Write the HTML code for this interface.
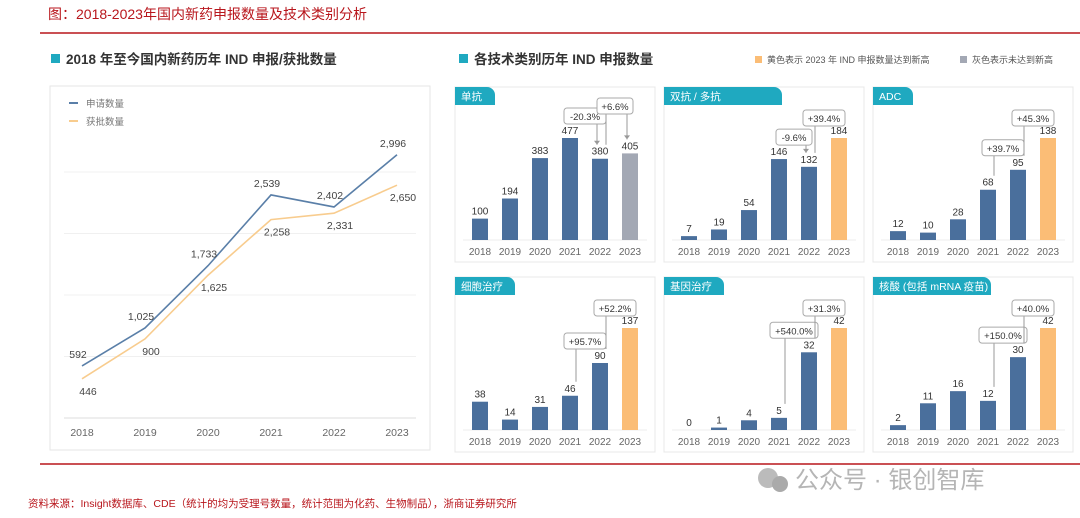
<!DOCTYPE html>
<html><head><meta charset="utf-8"><style>
body{margin:0;background:#fff;}
svg{display:block;font-family:"Liberation Sans","Noto Sans CJK SC",sans-serif;}
</style></head><body>
<svg id="s" width="1080" height="518" viewBox="0 0 1080 518">
<text x="48" y="19" font-size="14" fill="#b8161c">图：2018-2023年国内新药申报数量及技术类别分析</text>
<line x1="40" y1="33" x2="1080" y2="33" stroke="#b8161c" stroke-width="1.5"/>
<rect x="51" y="54" width="9" height="9" fill="#1fa9c0"/>
<text x="66" y="64" font-size="13.5" font-weight="bold" fill="#333">2018 年至今国内新药历年 IND 申报/获批数量</text>
<rect x="459" y="54" width="9" height="9" fill="#1fa9c0"/>
<text x="474" y="64" font-size="13.5" font-weight="bold" fill="#333">各技术类别历年 IND 申报数量</text>
<rect x="755" y="56" width="7" height="7" fill="#fbbd76"/>
<text x="767" y="63" font-size="9" fill="#555">黄色表示 2023 年 IND 申报数量达到新高</text>
<rect x="960" y="56" width="7" height="7" fill="#a3a8b4"/>
<text x="972" y="63" font-size="9" fill="#555">灰色表示未达到新高</text>
<rect x="50" y="86" width="380" height="364" fill="#fff" stroke="#e6e6e6"/>
<g id="line"></g>
<g id="bars"></g>
<line x1="40" y1="464" x2="1080" y2="464" stroke="#b8161c" stroke-width="1.5"/>
<text x="28" y="507" font-size="10.5" fill="#b8161c">资料来源：Insight数据库、CDE（统计的均为受理号数量，统计范围为化药、生物制品），浙商证券研究所</text>
<circle cx="768" cy="478" r="10" fill="#bbb"/>
<circle cx="780" cy="484" r="8" fill="#aaa"/>
<text x="795" y="488" font-size="24" fill="#b5b5b5">公众号 · 银创智库</text>
</svg>
<script>
const years=['2018','2019','2020','2021','2022','2023'];
const applied=[592,1025,1733,2539,2402,2996];
const approved=[446,900,1625,2258,2331,2650];
const gridTicks=[0,700,1400,2100,2800];

const panelNames=['单抗','双抗 / 多抗','ADC','细胞治疗','基因治疗','核酸 (包括 mRNA 疫苗)'];
const v1=[100,194,383,477,380,405];
const v2=[7,19,54,146,132,184];
const v3=[12,10,28,68,95,138];
const v4=[38,14,31,46,90,137];
const v5=[0,1,4,5,32,42];
const v6=[2,11,16,12,30,42];
const panelValues=[v1,v2,v3,v4,v5,v6];
const lastIsGray=[true,false,false,false,false,false];
const growthA=['-20.3%','-9.6%','+39.7%','+95.7%','+540.0%','+150.0%'];
const growthB=['+6.6%','+39.4%','+45.3%','+52.2%','+31.3%','+40.0%'];

const NS='http://www.w3.org/2000/svg';
function mk(p,tag,at,txt){const e=document.createElementNS(NS,tag);for(const k in at)e.setAttribute(k,at[k]);if(txt!==undefined)e.textContent=txt;p.appendChild(e);return e;}

// line chart
const L=document.getElementById('line');
const lx=i=>82+i*63;
const ly=v=>418-v*(61.5/700);
gridTicks.forEach(t=>{const g=mk(L,'line',{x1:64,x2:416,y1:ly(t),y2:ly(t),stroke:t===0?'#ddd':'#f0f0f0'});

});
years.forEach((y,i)=>{const t=mk(L,'text',{x:lx(i),y:436,'font-size':10.5,fill:'#666','text-anchor':'middle'},y);

});
function series(vals,color,name,dy,dx){
 const p=mk(L,'polyline',{points:vals.map((v,i)=>lx(i)+','+ly(v)).join(' '),fill:'none',stroke:color,'stroke-width':1.6});
 
 
 vals.forEach((v,i)=>{const t=mk(L,'text',{x:lx(i)+dx,y:ly(v)+dy,'font-size':10.5,fill:'#444','text-anchor':'middle'},v.toLocaleString('en-US'));
 
 });
}
series(applied,'#5a7fa8','applied',-8,-4);
series(approved,'#f8cc8e','approved',16,6);
[['#5a7fa8','申请数量',103],['#f8cc8e','获批数量',121]].forEach(([c,n,y])=>{
 const a=mk(L,'line',{x1:69,x2:78,y1:y,y2:y,stroke:c,'stroke-width':2});
 
 
 const t=mk(L,'text',{x:86,y:y+4,'font-size':9.5,fill:'#777'},n);
 
 
});

// bar panels
const B=document.getElementById('bars');
const px=[455,664,873], py=[87,277];
panelValues.forEach((vals,k)=>{
 const x0=px[k%3], y0=py[Math.floor(k/3)];
 const g=mk(B,'g',{});
 
 
 mk(g,'rect',{x:x0,y:y0,width:200,height:175,fill:'#fff',stroke:'#e8e8e8'});
 const tw=panelNames[k].length>6?118:(panelNames[k].length>3?60:40);
 mk(g,'path',{d:`M${x0} ${y0}h${tw-8}a8 8 0 0 1 8 8v10h${-tw}z`,fill:'#1fa9c0'});
 const tt=mk(g,'text',{x:x0+6,y:y0+13,'font-size':10.5,fill:'#fff'},panelNames[k]);
 
 
 const base=y0+153, mx=Math.max(...vals);
 const bx=i=>x0+25+i*30;
 const by=v=>base-v*(102/mx);
 mk(g,'line',{x1:x0+8,x2:x0+192,y1:base,y2:base,stroke:'#eee'});
 vals.forEach((v,i)=>{
  const col=i===5?(lastIsGray[k]?'#a3a8b4':'#fbbd76'):'#4a6f9c';
  const r=mk(g,'rect',{x:bx(i)-8,y:by(v),width:16,height:base-by(v),fill:col});
  
  
  const t=mk(g,'text',{x:bx(i),y:by(v)-4,'font-size':10,fill:'#333','text-anchor':'middle'},v);
  
  
  const yt=mk(g,'text',{x:bx(i),y:base+15,'font-size':10,fill:'#666','text-anchor':'middle'},years[i]);
  
  
 });
 const lt=i=>by(vals[i])-16;
 const ann=(f,t,lab,boxY)=>{
  const w=lab.length*6+6, cx=(bx(f)+bx(t))/2;
  mk(g,'line',{x1:bx(f)+6,x2:bx(f)+6,y1:lt(f)+2,y2:boxY+16,stroke:'#999'});
  mk(g,'line',{x1:bx(t)-3,x2:bx(t)-3,y1:boxY+16,y2:lt(t)+2,stroke:'#999'});
  mk(g,'path',{d:`M${bx(t)-6} ${lt(t)-2}l3 4l3 -4z`,fill:'#999'});
  mk(g,'rect',{x:cx-w/2,y:boxY,width:w,height:16,rx:3,fill:'#fff',stroke:'#aaa'});
  const at=mk(g,'text',{x:cx,y:boxY+12,'font-size':9.5,fill:'#333','text-anchor':'middle'},lab);
  
  
 };
 const b1=Math.min(lt(3),lt(4))-14;
 const b2=Math.min(b1-10,lt(5)-12);
 ann(3,4,growthA[k],b1);
 ann(4,5,growthB[k],b2);
});
</script>
</body></html>
